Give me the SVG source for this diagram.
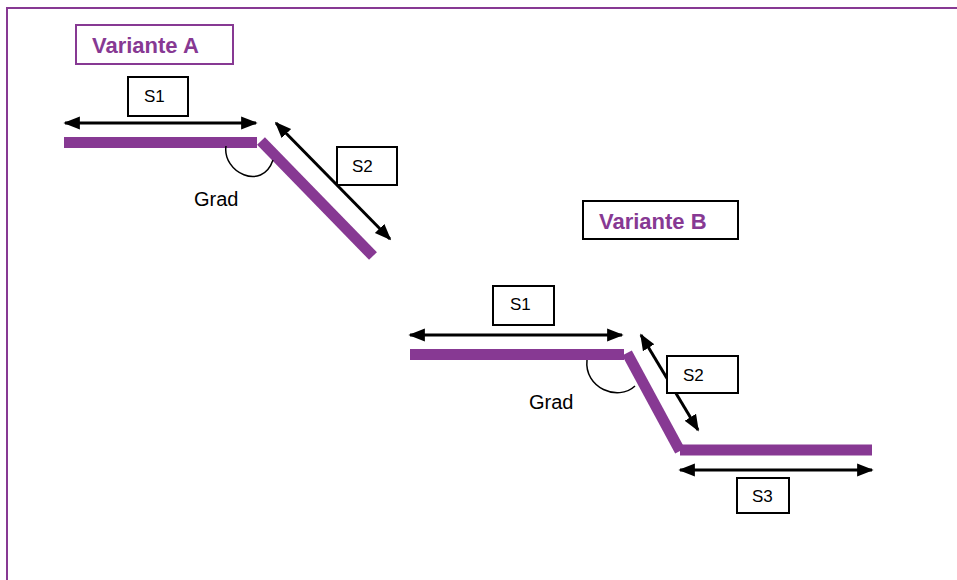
<svg xmlns="http://www.w3.org/2000/svg" width="957" height="580" viewBox="0 0 957 580">
<defs>
<marker id="ah" viewBox="0 0 10 10" refX="9" refY="5" markerWidth="5.5" markerHeight="5.5" orient="auto-start-reverse" markerUnits="strokeWidth">
<path d="M0,1 L10,5 L0,9 Z" fill="#000"/>
</marker>
<style>
.bar{stroke:#873993;stroke-width:11;fill:none}
.dim{stroke:#000;stroke-width:3;fill:none;marker-start:url(#ah);marker-end:url(#ah)}
.arc{stroke:#000;stroke-width:1.5;fill:none}
.lbl{fill:#fff;stroke:#000;stroke-width:2}
.t{font-family:"Liberation Sans",Arial,sans-serif;font-size:17px;fill:#000}
.g{font-family:"Liberation Sans",Arial,sans-serif;font-size:20px;fill:#000}
.v{font-family:"Liberation Sans",Arial,sans-serif;font-size:22px;font-weight:bold;fill:#873993}
</style>
</defs>
<rect width="957" height="580" fill="#fff"/>
<g id="frame">
<line x1="7" y1="8" x2="957" y2="8" stroke="#873993" stroke-width="2"/>
<line x1="7" y1="7" x2="7" y2="580" stroke="#873993" stroke-width="2"/>
</g>
<g id="variante-a-title">
<rect x="76" y="25" width="157" height="39" fill="#fff" stroke="#873993" stroke-width="2"/>
<text class="v" x="92" y="53">Variante A</text>
</g>
<g id="variante-a-shape">
<line class="bar" x1="64" y1="142.5" x2="257" y2="142.5"/>
<line class="bar" x1="261" y1="141" x2="373" y2="256"/>
<path class="arc" d="M226,146 C222,172 262,192 273,160"/>
<text class="g" x="194" y="206">Grad</text>
</g>
<g id="connectors">
<line class="dim" x1="65" y1="123" x2="256" y2="123"/>
<line class="dim" x1="276" y1="123" x2="390" y2="239"/>
<line class="dim" x1="410" y1="335" x2="622" y2="335"/>
<line class="dim" x1="641" y1="335" x2="698" y2="430"/>
<line class="dim" x1="680" y1="470" x2="872" y2="470"/>
</g>
<g id="a-s1">
<rect class="lbl" x="128" y="77" width="60" height="39"/>
<text class="t" x="144" y="102">S1</text>
</g>
<g id="a-s2">
<rect class="lbl" x="337" y="147" width="60" height="38"/>
<text class="t" x="352" y="172">S2</text>
</g>
<g id="variante-b-title">
<rect x="583" y="201" width="155" height="38" fill="#fff" stroke="#000" stroke-width="2"/>
<text class="v" x="599" y="229">Variante B</text>
</g>
<g id="variante-b-shape">
<line class="bar" x1="410" y1="354.5" x2="624" y2="354.5"/>
<line class="bar" x1="627" y1="353" x2="680" y2="451"/>
<line class="bar" x1="680" y1="450" x2="872" y2="450"/>
<path class="arc" d="M587,360 C584,388 618,402 635,386"/>
<text class="g" x="529" y="409">Grad</text>
</g>
<g id="b-s1">
<rect class="lbl" x="493" y="286" width="61" height="39"/>
<text class="t" x="510" y="310">S1</text>
</g>
<g id="b-s2">
<rect class="lbl" x="667" y="356" width="71" height="37"/>
<text class="t" x="683" y="381">S2</text>
</g>
<g id="b-s3">
<rect class="lbl" x="737" y="478" width="52" height="35"/>
<text class="t" x="752" y="502">S3</text>
</g>
</svg>
